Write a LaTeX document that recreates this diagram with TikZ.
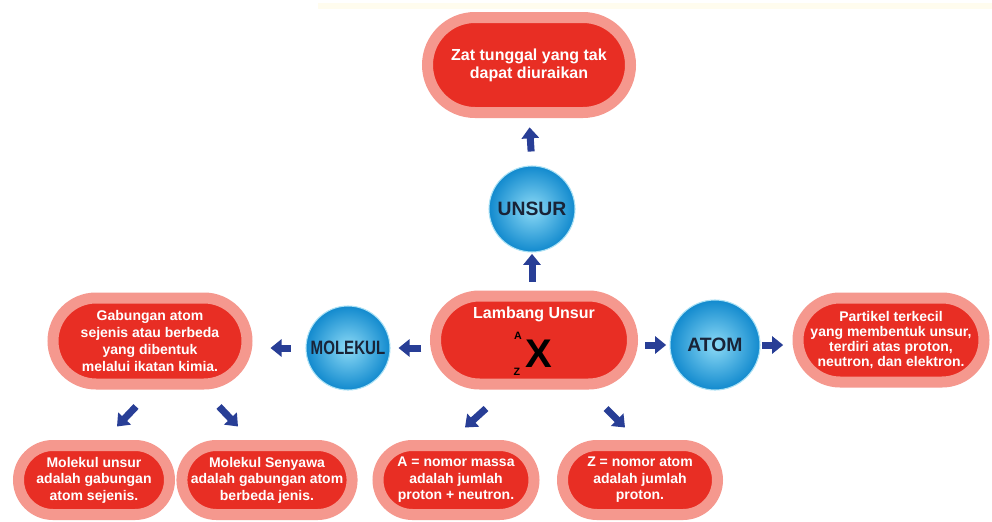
\documentclass[tikz,border=0pt]{standalone}
\usepackage{fontspec}
\setmainfont{Liberation Sans}
\usetikzlibrary{shapes.misc,arrows.meta,calc}
\definecolor{ringc}{RGB}{245,152,142}
\definecolor{redc}{RGB}{232,46,36}
\definecolor{arrc}{RGB}{40,62,150}
\definecolor{ballin}{RGB}{140,218,246}
\definecolor{ballout}{RGB}{18,138,206}
\definecolor{ballrim}{RGB}{170,225,245}
\definecolor{txtc}{RGB}{25,35,55}
\definecolor{faint}{RGB}{255,252,238}
\begin{document}
\begin{tikzpicture}[x=0.75pt,y=-0.75pt,
  pill/.style 2 args={rounded rectangle, fill=redc, draw=ringc, line width=8.25pt,
    minimum width=#1*0.75pt, minimum height=#2*0.75pt, inner sep=0pt,
    text=white, align=center},
  ball/.style={circle, shading=radial, inner color=ballin, outer color=ballout,
    draw=ballrim, line width=0.8pt, minimum size=#1*0.75pt, inner sep=0pt,
    text=txtc, font=\fontsize{14.5}{14.5}\selectfont\bfseries},
  barrow/.style={draw=arrc, line width=5.25pt,
    -{Triangle[width=12.75pt,length=8.25pt]}},
  tfont/.style={font=\fontsize{12}{13.5}\selectfont\bfseries},
  lfont/.style={font=\fontsize{10.5}{12.9}\selectfont\bfseries},
  rfont/.style={font=\fontsize{10.5}{11.4}\selectfont\bfseries},
  bfont/.style={font=\fontsize{10.5}{12.4}\selectfont\bfseries}
]
\useasboundingbox (0,0) rectangle (992,521);
\fill[white] (0,0) rectangle (992,521);
\fill[faint] (318,3) rectangle (992,9);

% boxes
\node[pill={203}{95}, tfont] (top) at (529,65) {Zat tunggal yang tak\\dapat diuraikan};
\node[pill={197}{88}] (lambang) at (534,340) {};
\node[pill={194}{86}, lfont] (ldesc) at (150,341) {Gabungan atom\\sejenis atau berbeda\\yang dibentuk\\melalui ikatan kimia.};
\node[pill={186}{84}, rfont] (rdesc) at (891,340) {Partikel terkecil\\yang membentuk unsur,\\terdiri atas proton,\\neutron, dan elektron.};
\node[pill={151}{69}, bfont] (b1) at (94,480) {Molekul unsur\\adalah gabungan\\atom sejenis.};
\node[pill={154}{69}, bfont] (b2) at (267,480) {Molekul Senyawa\\adalah gabungan atom\\berbeda jenis.};
\node[pill={156}{69}, bfont] (b3) at (456,480) {A = nomor massa\\adalah jumlah\\proton + neutron.};
\node[pill={155}{69}, bfont] (b4) at (640,480) {Z = nomor atom\\adalah jumlah\\proton.};

% lambang contents
\node[text=white, tfont, inner sep=0pt] (ltitle) at (534,314) {Lambang Unsur};
\node[text=black, font=\fontsize{30}{30}\selectfont\bfseries, inner sep=0pt] (lx) at (539,354) {X};
\node[text=black, font=\fontsize{8}{8}\selectfont\bfseries, inner sep=0pt] (la) at (518,336) {A};
\node[text=black, font=\fontsize{8}{8}\selectfont\bfseries, inner sep=0pt] (lz) at (517,372) {Z};

% circles
\node[ball=86] (unsur) at (532,209) {UNSUR};
\node[ball=84] (molekul) at (348,348) {\scalebox{0.78}[1]{MOLEKUL}};
\node[ball=90] (atom) at (715,345) {ATOM};

% arrows
\draw[barrow, shorten <=10.5pt, shorten >=7pt] (unsur.north) -- (top.south);
\draw[barrow, shorten <=6.5pt, shorten >=1pt] (unsur |- lambang.north) -- (unsur.south);
\draw[barrow, shorten <=6.5pt, shorten >=6pt] (lambang.west |- molekul) -- (molekul.east);
\draw[barrow, shorten <=11pt, shorten >=13.5pt] (molekul.west) -- (ldesc.east |- molekul.west);
\draw[barrow, shorten <=5.5pt, shorten >=2.5pt] (lambang.east |- atom) -- (atom.west);
\draw[barrow, shorten <=1pt, shorten >=7pt] (atom.east) -- (rdesc.west |- atom.east);
\draw[barrow] ($(ldesc.south)+(-14,17)$) -- ($(b1.north)+(23,-13.5)$);
\draw[barrow] ($(ldesc.south)+(69,17)$) -- ($(b2.north)+(-29,-13.5)$);
\draw[barrow] ($(lambang.south)+(-48,19)$) -- ($(b3.north)+(9,-12.5)$);
\draw[barrow] ($(lambang.south)+(72,19)$) -- ($(b4.north)+(-15,-12.5)$);
\end{tikzpicture}
\end{document}
